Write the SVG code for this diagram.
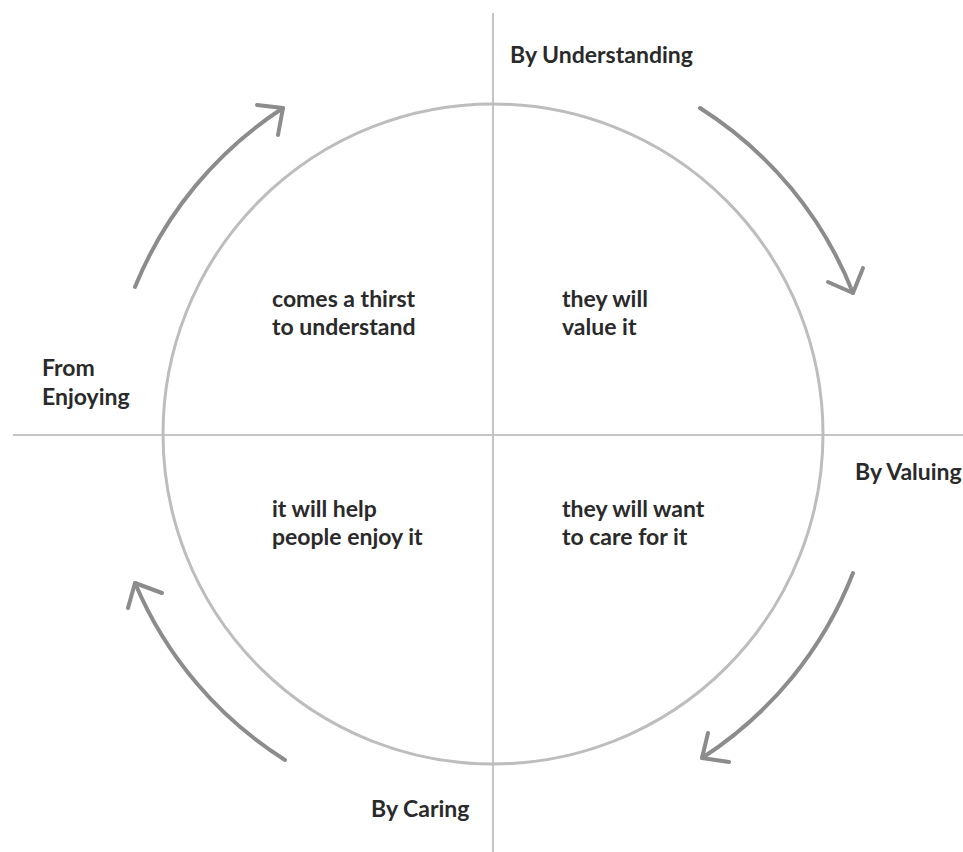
<svg xmlns="http://www.w3.org/2000/svg" width="963" height="852" viewBox="0 0 963 852">
<style>
.axis{stroke:#c4c4c4;stroke-width:2;fill:none}
.ring{stroke:#bdbdbd;stroke-width:3;fill:none}
.arr{stroke:#8c8c8c;stroke-width:4;fill:none;stroke-linecap:round;stroke-linejoin:round}
text{font-family:Lato,"Open Sans","Liberation Sans",sans-serif;font-weight:bold;font-size:23px;fill:#2a2a2a}
</style>
<rect width="963" height="852" fill="#fff"/>
<g id="axes">
<line class="axis" x1="493" y1="13" x2="493" y2="852"/>
<line class="axis" x1="13" y1="435" x2="963" y2="435"/>
</g>
<g id="circle"><circle class="ring" cx="493" cy="434" r="330"/></g>
<g id="connectors">
<path class="arr" d="M135,287 A387,387 0 0 1 283,108"/>
<polyline class="arr" points="257,105 283,108 278,135"/>
<path class="arr" d="M700,108 A387,387 0 0 1 853,293"/>
<polyline class="arr" points="828,282 853,293 863,268"/>
<path class="arr" d="M853,573 A387,387 0 0 1 702,758"/>
<polyline class="arr" points="708,733 702,758 729,762"/>
<path class="arr" d="M285,760 A387,387 0 0 1 135,583"/>
<polyline class="arr" points="128,608 135,583 162,593"/>
</g>
<g id="label-understanding"><text x="510" y="63">By Understanding</text></g>
<g id="label-valuing"><text x="855" y="480">By Valuing</text></g>
<g id="label-caring"><text x="371" y="817">By Caring</text></g>
<g id="label-enjoying"><text x="42" y="376">From</text><text x="42" y="405">Enjoying</text></g>
<g id="q-tl"><text x="272" y="307">comes a thirst</text><text x="272" y="335">to understand</text></g>
<g id="q-tr"><text x="562" y="307">they will</text><text x="562" y="335">value it</text></g>
<g id="q-bl"><text x="272" y="517">it will help</text><text x="272" y="545">people enjoy it</text></g>
<g id="q-br"><text x="562" y="517">they will want</text><text x="562" y="545">to care for it</text></g>
</svg>
